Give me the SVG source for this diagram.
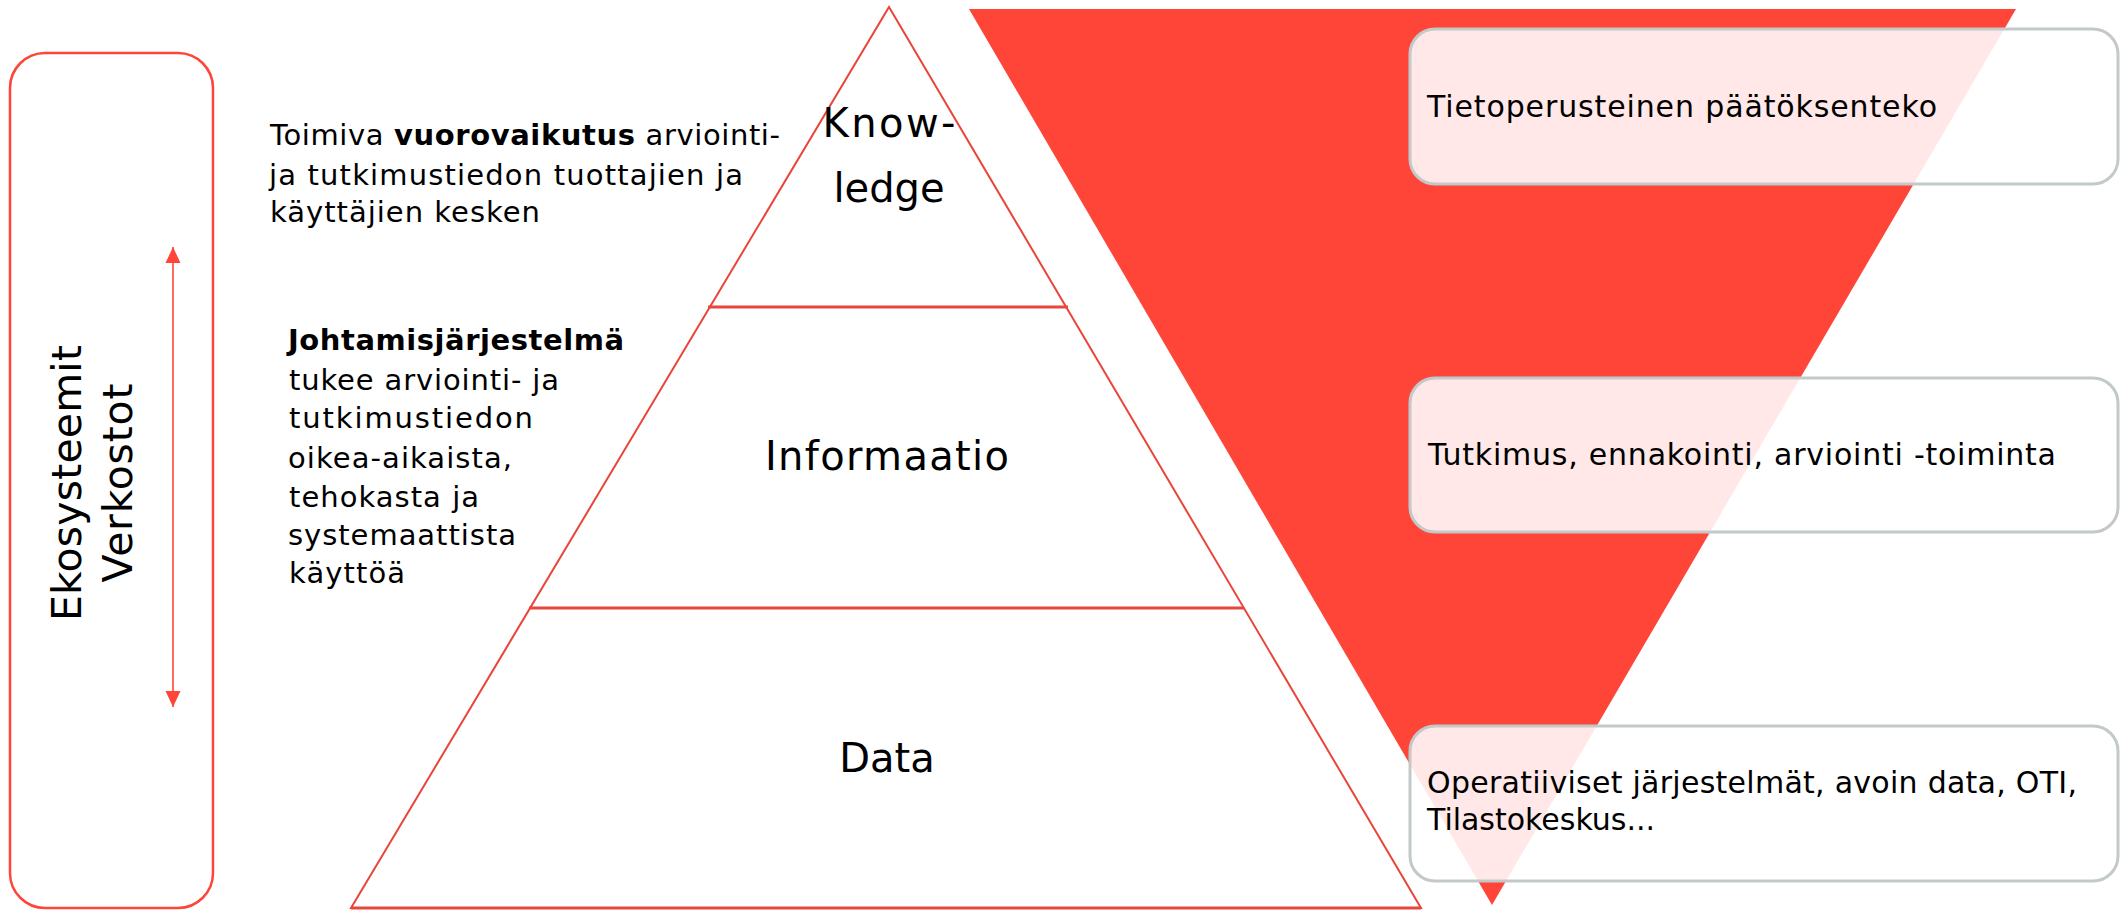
<svg xmlns="http://www.w3.org/2000/svg" width="2126" height="910" viewBox="0 0 2126 910">
<style>
  text { font-family: "DejaVu Sans", "Liberation Sans", sans-serif; fill: #000; }
  .body { font-size: 29px; }
  .box-text { font-size: 30px; }
  .label { font-size: 40px; text-anchor: middle; }
  .vert { font-size: 41px; text-anchor: middle; }
  .pyr-edge { fill: none; stroke: #E8453B; stroke-width: 2; stroke-linejoin: miter; }
  .pyr-div { stroke: #E8453B; stroke-width: 3; }
  .card { fill: #FFFFFF; fill-opacity: 0.88; stroke: #C3C9C9; stroke-width: 3; }
  .frame { fill: none; stroke: #FF4438; stroke-width: 2.5; }
  .conn { stroke: #FF4438; stroke-width: 1.6; fill: none; }
</style>
<defs>
  <marker id="arrowhead" markerUnits="userSpaceOnUse" markerWidth="16" markerHeight="16" refX="16" refY="7.5" orient="auto-start-reverse" viewBox="0 0 16 15">
    <path d="M0,0 L16,7.5 L0,15 z" fill="#FF4438"/>
  </marker>
</defs>
<rect width="2126" height="910" fill="#FFFFFF"/>

<g id="funnel">
  <polygon points="969,9 2016,9 1492,905" fill="#FF4438"/>
</g>

<g id="ecosystem-frame">
  <rect class="frame" x="10" y="53" width="203" height="855" rx="35" ry="35"/>
  <text class="vert" transform="translate(81,483) rotate(-90)" textLength="276">Ekosysteemit</text>
  <text class="vert" transform="translate(132,483) rotate(-90)" textLength="199">Verkostot</text>
</g>

<g id="connectors">
  <line class="conn" x1="173" y1="247" x2="173" y2="707" marker-start="url(#arrowhead)" marker-end="url(#arrowhead)"/>
</g>

<g id="pyramid">
  <polygon class="pyr-edge" points="889,7 1421,908 351,908"/>
  <line class="pyr-div" x1="708" y1="307" x2="1068" y2="307"/>
  <line class="pyr-div" x1="529" y1="608" x2="1244" y2="608"/>
  <line class="pyr-div" x1="351" y1="908" x2="1421" y2="908"/>
</g>

<g id="knowledge">
  <text class="label" x="889" y="137" textLength="133">Know-</text>
  <text class="label" x="889" y="202">ledge</text>
</g>
<g id="informaatio">
  <text class="label" x="887" y="470" textLength="244">Informaatio</text>
</g>
<g id="data">
  <text class="label" x="887" y="772">Data</text>
</g>

<g id="text-vuorovaikutus">
  <text class="body" x="270" y="145" textLength="510">Toimiva <tspan font-weight="bold">vuorovaikutus</tspan> arviointi-</text>
  <text class="body" x="269" y="185" textLength="474">ja tutkimustiedon tuottajien ja</text>
  <text class="body" x="270" y="222" textLength="270">käyttäjien kesken</text>
</g>

<g id="text-johtamisjarjestelma">
  <text class="body" x="288" y="350" font-weight="bold" textLength="336">Johtamisjärjestelmä</text>
  <text class="body" x="289" y="390" textLength="270">tukee arviointi- ja</text>
  <text class="body" x="289" y="428" textLength="244">tutkimustiedon</text>
  <text class="body" x="288" y="468" textLength="224">oikea-aikaista,</text>
  <text class="body" x="289" y="507" textLength="190">tehokasta ja</text>
  <text class="body" x="288" y="545" textLength="228">systemaattista</text>
  <text class="body" x="289" y="583" textLength="116">käyttöä</text>
</g>

<g id="box-paatoksenteko">
  <rect class="card" x="1410" y="29" width="708" height="155" rx="25" ry="25"/>
  <text class="box-text" x="1427" y="117" textLength="510">Tietoperusteinen päätöksenteko</text>
</g>

<g id="box-tutkimus">
  <rect class="card" x="1410" y="378" width="708" height="154" rx="25" ry="25"/>
  <text class="box-text" x="1428" y="465" textLength="628">Tutkimus, ennakointi, arviointi -toiminta</text>
</g>

<g id="box-operatiiviset">
  <rect class="card" x="1410" y="726" width="708" height="155" rx="25" ry="25"/>
  <text class="box-text" x="1427" y="793" textLength="650">Operatiiviset järjestelmät, avoin data, OTI,</text>
  <text class="box-text" x="1427" y="830" textLength="228">Tilastokeskus...</text>
</g>
</svg>
